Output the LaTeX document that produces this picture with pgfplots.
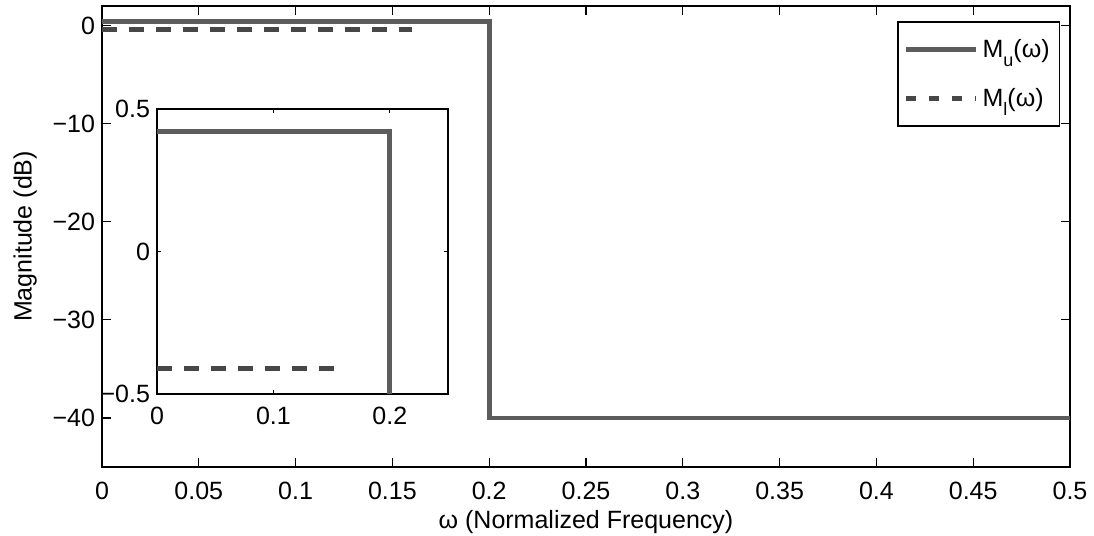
\documentclass[border=0pt]{standalone}
\usepackage{fontspec}
\setmainfont{Liberation Sans}
\usepackage{pgfplots}
\pgfplotsset{compat=1.18}
\definecolor{uline}{gray}{0.36}
\definecolor{lline}{gray}{0.28}
\newcommand{\fs}{\fontsize{12.5}{14}\selectfont}
\newcommand{\sub}[1]{\raisebox{-0.7ex}{\fontsize{9}{9}\selectfont #1}}
\pgfplotsset{dashlegend/.style={legend image code/.code={\draw[##1, dash pattern=on 5pt off 6.5pt] (0pt,0pt) -- (35pt,0pt);}}}
\begin{document}
\begin{tikzpicture}
\useasboundingbox (-51pt,-34.5pt) rectangle (496pt,233.5pt);
\begin{axis}[
 at={(0,0)}, anchor=south west,
 scale only axis, width=484pt, height=230.5pt,
 xmin=0, xmax=0.5, ymin=-45, ymax=2,
 xtick={0,0.05,0.1,0.15,0.2,0.25,0.3,0.35,0.4,0.45,0.5},
 xticklabels={0,0.05,0.1,0.15,0.2,0.25,0.3,0.35,0.4,0.45,0.5},
 ytick={-40,-30,-20,-10,0},
 yticklabels={−40,−30,−20,−10,0},
 tick align=inside, major tick length=4.5pt,
 axis line style={line width=0.7pt},
 every tick/.style={black, line width=0.6pt},
 tick label style={font=\fs},
 xticklabel style={yshift=-4pt},
 xlabel={ω (Normalized Frequency)}, ylabel={Magnitude (dB)},
 every axis x label/.style={at={(axis description cs:0.5,-0.119)}, anchor=center, font=\fs},
 every axis y label/.style={at={(axis description cs:-0.0795,0.5)}, anchor=center, rotate=90, font=\fs},
 legend style={at={(0.99,0.967)}, anchor=north east, font=\fs, draw=black, line width=0.7pt, row sep=10pt, inner xsep=3pt, inner ysep=6.5pt},
 legend image code/.code={\draw[#1] (0pt,0pt) -- (35pt,0pt);},
 legend cell align=left,
]
\addplot[uline, line width=2.4pt] coordinates {(0,0.42) (0.2,0.42) (0.2,-40) (0.5,-40)};
\addlegendentry{M\sub{u}(ω)}
\addplot[lline, line width=2.3pt, dash pattern=on 7.5pt off 6pt, dashlegend] coordinates {(0,-0.41) (0.16,-0.41)};
\addlegendentry{M\sub{l}(ω)}
\end{axis}
\begin{axis}[
 at={(27.5pt,36.5pt)}, anchor=south west,
 scale only axis, width=145.5pt, height=142.5pt,
 xmin=0, xmax=0.25, ymin=-0.5, ymax=0.5,
 xtick={0,0.1,0.2}, xticklabels={0,0.1,0.2},
 ytick={-0.5,0,0.5}, yticklabels={−0.5,0,0.5},
 axis background/.style={fill=white},
 tick align=inside, major tick length=2pt,
 axis line style={line width=0.7pt},
 every tick/.style={black, line width=0.6pt},
 tick label style={font=\fs},
 xticklabel style={yshift=-3pt},
]
\addplot[uline, line width=2.4pt] coordinates {(0,0.42) (0.2,0.42) (0.2,-1)};
\addplot[lline, line width=2.3pt, dash pattern=on 7.5pt off 6pt] coordinates {(0,-0.41) (0.16,-0.41)};
\end{axis}
\end{tikzpicture}
\end{document}
